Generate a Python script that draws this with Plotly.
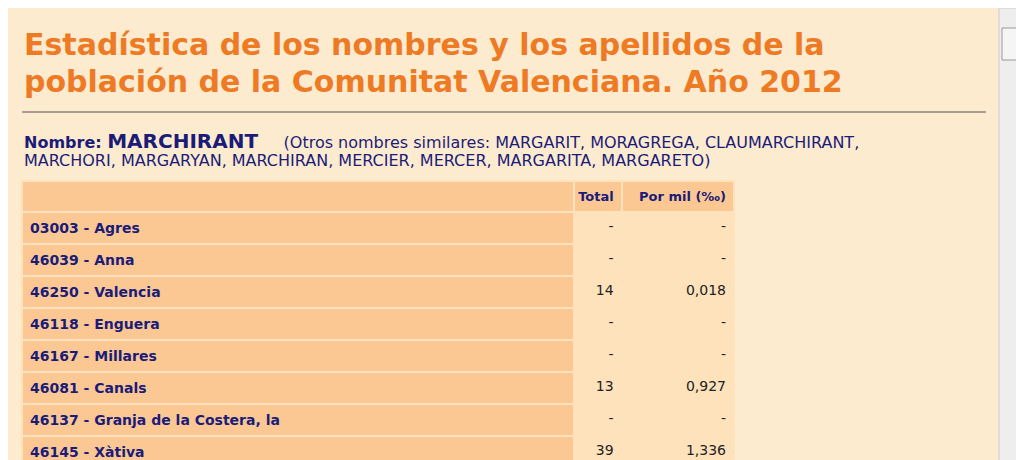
import plotly.graph_objects as go

codes = ["03003","46039","46250","46118","46167","46081","46137","46145","46057","46062"]
names = ["Agres","Anna","Valencia","Enguera","Millares","Canals","Granja de la Costera, la","Xàtiva","Benicolet","Benigánim"]
totals = ["-","-","14","-","-","13","-","39","-","44"]
permil = ["-","-","0,018","-","-","0,927","-","1,336","-","6,863"]
headers = ["", "<b>Total</b>", "<b>Por mil (‰)</b>"]

W, H = 1024, 460
OFF = 8  # default page margin of the HTML body
bg = "#FDEBD0"
navy = "#1B1B78"
orange = "#EE7A24"
cell = "#FBC894"
light = "#FDE2BC"

def px(x): return (x - OFF) / W
def py(y): return 1 - (y - OFF) / H

fig = go.Figure()
fig.add_trace(go.Table(
    domain=dict(x=[px(22), px(734)], y=[0, py(181)]),
    columnwidth=[550, 48, 112],
    header=dict(values=headers, height=24, align=["left","right","right"],
                fill_color=[cell, cell, cell], line=dict(color=light, width=2),
                font=dict(family="Verdana, DejaVu Sans", size=13, color=navy)),
    cells=dict(values=[[f"<b>{c} - {n}</b>" for c, n in zip(codes, names)], totals, permil],
               height=25, align=["left","right","right"],
               fill_color=[cell, light, light], line=dict(color=light, width=2),
               font=dict(family="Verdana, DejaVu Sans", size=14, color=[navy, "#222222", "#222222"])),
))

ann = [
    dict(x=px(22), y=py(45), text="<b>Estadística de los nombres y los apellidos de la</b>", size=30, color=orange),
    dict(x=px(22), y=py(82), text="<b>población de la Comunitat Valenciana. Año 2012</b>", size=30, color=orange),
    dict(x=px(22), y=py(141), text="<b>Nombre: </b><b><span style='font-size:20px'>MARCHIRANT</span></b>     (Otros nombres similares: MARGARIT, MORAGREGA, CLAUMARCHIRANT,", size=16, color=navy),
    dict(x=px(22), y=py(161), text="MARCHORI, MARGARYAN, MARCHIRAN, MERCIER, MERCER, MARGARITA, MARGARETO)", size=16, color=navy),
]
annotations = [dict(xref="paper", yref="paper", x=a["x"], y=a["y"], xanchor="left", yanchor="middle",
                    showarrow=False, text=a["text"],
                    font=dict(family="Verdana, DejaVu Sans", size=a["size"], color=a["color"])) for a in ann]

shapes = [
    dict(type="line", xref="paper", yref="paper", x0=px(22), x1=px(986), y0=py(112), y1=py(112),
         line=dict(color="#555555", width=1)),
    dict(type="rect", xref="paper", yref="paper", x0=px(999), x1=px(1021), y0=0, y1=py(8),
         fillcolor="#EEEEEE", line=dict(color="#CCCCCC", width=1)),
    dict(type="rect", xref="paper", yref="paper", x0=px(1002), x1=px(1018), y0=py(60), y1=py(28),
         fillcolor="#F5F5F5", line=dict(color="#999999", width=1)),
]

fig.update_layout(width=W, height=H, margin=dict(l=0, r=0, t=0, b=0),
                  paper_bgcolor=bg, plot_bgcolor=bg,
                  annotations=annotations, shapes=shapes)
fig.write_html("out.html")
